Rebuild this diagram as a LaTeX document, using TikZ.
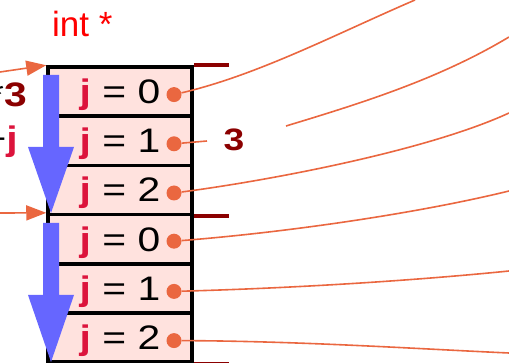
\documentclass[tikz,border=0pt]{standalone}
\usepackage{fontspec}
\setmainfont{Liberation Sans}
\newfontfamily\cellfont[FakeStretch=1.2]{Liberation Sans}
\usetikzlibrary{arrows.meta}

\definecolor{cellpink}{HTML}{FFE2DE}
\definecolor{jred}{HTML}{DC143C}
\definecolor{dred}{HTML}{8B0000}
\definecolor{ptr}{HTML}{EA6740}
\definecolor{walk}{HTML}{6666FF}

\tikzset{
  cell/.style={draw=black, line width=3.5pt, fill=cellpink,
    minimum width=144pt, minimum height=49.2pt, inner sep=0pt,
    text height=24pt, text depth=0pt,
    font=\cellfont\fontsize{34}{40}\selectfont},
  dot/.style={circle, fill=ptr, inner sep=0pt, minimum size=15pt},
  link/.style={draw=ptr, line width=1.6pt},
  inarrow/.style={draw=ptr, line width=1.6pt, -{Triangle[length=20pt, width=15pt]}},
  tick/.style={draw=dred, line width=4pt},
  stride/.style={fill=walk},
  lbl/.style={font=\cellfont\fontsize{34}{40}\selectfont, inner sep=0pt}
}

\newcommand{\jcell}[1]{\textcolor{jred}{\bfseries j} = #1}

\begin{document}
\begin{tikzpicture}[x=1pt, y=-1pt]
\useasboundingbox (0,0) rectangle (509,363);
\clip (0,0) rectangle (509,363);

% type label
\node[anchor=base west, text=red, font=\fontsize{35}{40}\selectfont, inner sep=0pt]
  (type) at (52,37) {int *};

% index expression, partly outside the frame
\node[lbl, anchor=base east] (times) at (27,107) {*\textcolor{dred}{\bfseries 3}};
\node[lbl, anchor=base east] (plus) at (18,151) {+\textcolor{jred}{\bfseries j}};

% the six int cells
\node[cell] (c0) at (120, 91.6) {\jcell{0}};
\node[cell] (c1) at (120,140.8) {\jcell{1}};
\node[cell] (c2) at (120,190.0) {\jcell{2}};
\node[cell] (c3) at (120,239.2) {\jcell{0}};
\node[cell] (c4) at (120,288.4) {\jcell{1}};
\node[cell] (c5) at (120,337.6) {\jcell{2}};

% row boundaries
\coordinate (r0) at (c0.north east);
\coordinate (r1) at (c2.south east);
\coordinate (r2) at (c5.south east);
\draw[tick] (r0) -- ++(35,0);
\draw[tick] (r1) -- ++(35,0);
\draw[tick] (r2) -- ++(35,0);

% pointers leaving the cells
\node[dot] (d0) at (174, 94.6) {};
\node[dot] (d1) at (174,143.8) {};
\node[dot] (d2) at (174,193.0) {};
\node[dot] (d3) at (174,241.2) {};
\node[dot] (d4) at (174,291.4) {};
\node[dot] (d5) at (174,340.6) {};

\coordinate (e0) at (415,0);
\coordinate (m1) at (207,141);
\coordinate (s1) at (286,126);
\coordinate (e1) at (509,37);
\coordinate (e2) at (509,113);
\coordinate (e3) at (509,191);
\coordinate (e4) at (509,271);
\coordinate (e5) at (509,353);

\draw[link] (d0) .. controls (258,75) and (336,34) .. (e0);
\draw[link] (d1) -- (m1);
\draw[link] (s1) .. controls (362,103) and (439,79) .. (e1);
\draw[link] (d2) .. controls (273,180) and (429,150) .. (e2);
\draw[link] (d3) .. controls (290,232) and (419,213) .. (e3);
\draw[link] (d4) .. controls (300,288) and (420,280) .. (e4);
\draw[link] (d5) .. controls (300,341) and (420,349) .. (e5);

\node[font=\cellfont\fontsize{31}{36}\selectfont\bfseries, text=dred, inner sep=0pt]
  (three) at (234,140) {3};

% stride arrows
\fill[stride] (43,75) -- (59,75) -- (59,147) -- (74,147) -- (51,213)
  -- (28,147) -- (43,147) -- cycle;
\fill[stride] (43,223) -- (59,223) -- (59,295) -- (74,295) -- (51,362)
  -- (28,295) -- (43,295) -- cycle;

% incoming pointers
\coordinate (p0) at (0,72);
\coordinate (p1) at (0,213);
\draw[inarrow] (p0) -- (c0.north west);
\draw[inarrow] (p1) -- (c3.north west);
\end{tikzpicture}
\end{document}
